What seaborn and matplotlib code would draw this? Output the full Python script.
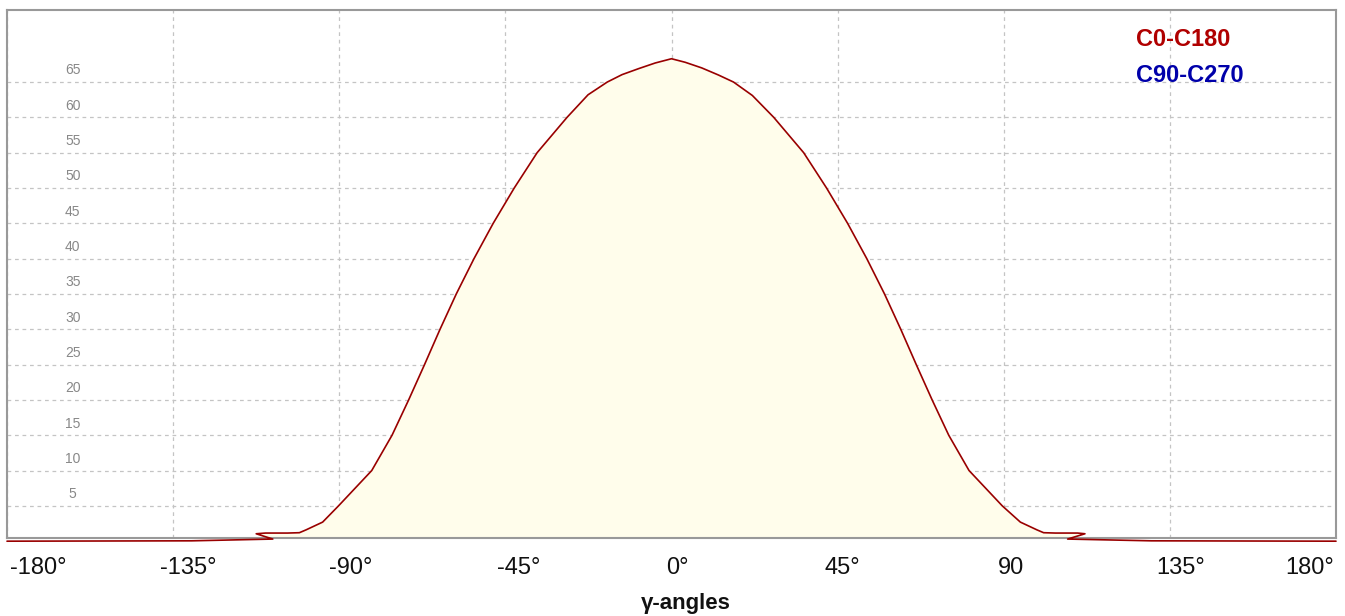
import matplotlib
matplotlib.use("Agg")
import matplotlib.pyplot as plt
import matplotlib.transforms as mtransforms
import seaborn as sns
import pandas as pd

# ---- data ----
angles = [-180, -130, -108, -112.5, -110, -104, -100.8, -99, -94.5, -90.2, -81.2, -75.7,
          -71.2, -66.9, -62.7, -58.3, -53.5, -48.3, -42.6, -36.4, -28.3, -22.6, -17.4,
          -13.4, -8.9, -4.4, 0,
          3.7, 8.2, 12.7, 16.8, 21.9, 27.7, 35.8, 42.0, 47.7, 52.9, 57.7, 62.1, 66.3,
          70.6, 75.1, 80.6, 89.6, 94.5, 99, 100.8, 104, 110, 112, 107.3, 130, 180]
intensity = [0, 0.05, 0.3, 1.05, 1.15, 1.15, 1.2, 1.6, 2.7, 5, 10, 15,
             20, 25, 30, 35, 40, 45, 50, 55, 60, 63.2, 65,
             66.05, 66.9, 67.7, 68.3,
             67.8, 67.0, 66.0, 65, 63.1, 60, 55, 50, 45, 40, 35, 30, 25,
             20, 15, 10, 5, 2.7, 1.6, 1.2, 1.15, 1.15, 1.05, 0.3, 0.05, 0]

x_ticks = [-180, -135, -90, -45, 0, 45, 90, 135, 180]
x_tick_labels = ["-180°", "-135°", "-90°", "-45°", "0°", "45°", "90", "135°", "180°"]
y_ticks = [5, 10, 15, 20, 25, 30, 35, 40, 45, 50, 55, 60, 65]
legend_labels = ["C0-C180", "C90-C270"]
legend_colors = ["#B00000", "#0000AA"]

df = pd.DataFrame({"angle": angles, "value": intensity})

sns.set_theme(style="white")
plt.rcParams["font.family"] = ["Liberation Sans", "DejaVu Sans"]

fig = plt.figure(figsize=(13.45, 6.16), dpi=100)
ax = fig.add_axes([7 / 1345, 1 - 538 / 616, (1336 - 7) / 1345, (538 - 10) / 616])

ax.fill(df["angle"], df["value"], color="#FFFDEB", zorder=1, lw=0)
sns.lineplot(data=df, x="angle", y="value", sort=False, estimator=None,
             color="#990000", lw=1.2, ax=ax, zorder=3, clip_on=False)

ax.set_xlim(-180, 180)
ax.set_ylim(0.45, 75.2)

# grid
ax.set_yticks(y_ticks)
ax.set_yticklabels([])
ax.set_xticks(x_ticks)
ax.set_xticklabels(x_tick_labels, fontsize=17, color="#111111")
ax.tick_params(axis="both", length=0)
ax.tick_params(axis="x", pad=14)
ax.grid(True, linestyle=(0, (3, 3)), color="#c4c4c4", lw=0.9, zorder=0)
ax.set_axisbelow(True)

labels = ax.get_xticklabels()
offsets_px = [3, 15, 11, 13, 6, 5, 7, 11, -2]
for i, lab in enumerate(labels):
    if i == 0:
        lab.set_ha("left")
    elif i == len(labels) - 1:
        lab.set_ha("right")
    lab.set_transform(lab.get_transform() +
                      mtransforms.ScaledTranslation(offsets_px[i] / 100, 0, fig.dpi_scale_trans))

# y labels inside plot, above gridlines
for v in y_ticks:
    ax.text(-162.2, v + 1.65, str(v), ha="center", va="center", fontsize=10, color="#888888")

for s in ax.spines.values():
    s.set_color("#999999")
    s.set_linewidth(1.5)

ax.set_xlabel("")
ax.set_ylabel("")

# legend texts
for i, (lbl, col) in enumerate(zip(legend_labels, legend_colors)):
    fig.text(1136 / 1345, 1 - (40 + 36 * i) / 616, lbl, color=col, fontsize=17,
             fontweight="bold", ha="left", va="center")

fig.text(686 / 1345, 1 - 603 / 616, "γ-angles", fontsize=16, fontweight="bold",
         ha="center", va="center", color="#111111")

fig.savefig("out.png", dpi=100)
